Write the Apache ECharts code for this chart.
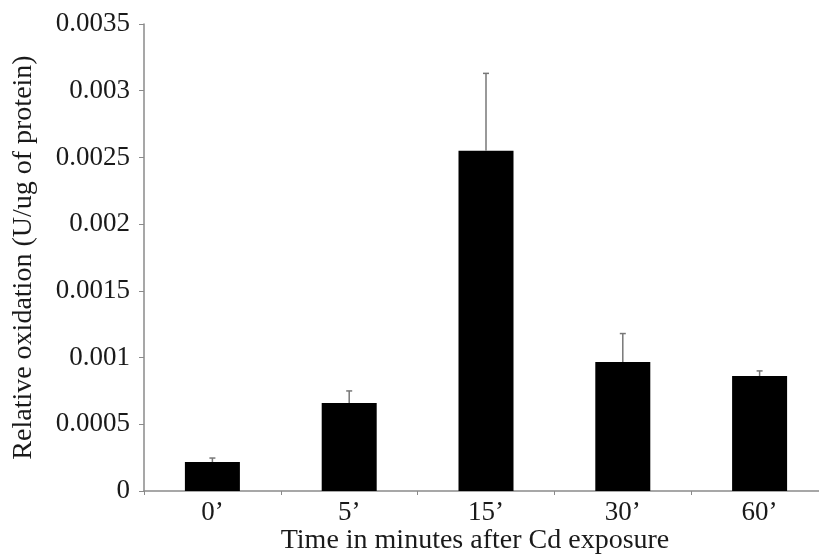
<!DOCTYPE html>
<html>
<head>
<meta charset="utf-8">
<script src="https://cdn.jsdelivr.net/npm/echarts@6/dist/echarts.min.js"></script>
<style>
  html, body { margin: 0; padding: 0; background: #fff; }
  #chart { width: 819px; height: 554px; }
</style>
</head>
<body>
<div id="chart"></div>
<script>
// data
const categories = ['0’', '5’', '15’', '30’', '60’']
const meanValues = [0.000217, 0.00066, 0.00255, 0.000967, 0.000862]
const upperValues = [0.000247, 0.00075, 0.00313, 0.00118, 0.0009]

const chart = echarts.init(document.getElementById('chart'))

const font = 'Liberation Serif'
const axisGrey = '#8a8a8a'

const errData = categories.map((c, i) => [i, meanValues[i], upperValues[i]])

const option = {
  animation: false,
  grid: { left: 144, top: 24, width: 684, bottom: 63, outerBoundsMode: 'none', containLabel: false },
  xAxis: {
    type: 'category',
    data: categories,
    name: 'Time in minutes after Cd exposure',
    nameLocation: 'middle',
    nameGap: 36,
    nameMoveOverlap: false,
    nameTextStyle: { fontFamily: font, fontSize: 28, lineHeight: 28, color: '#1a1a1a', padding: [0, 22, 0, 0] },
    axisLine: { lineStyle: { color: axisGrey, width: 1.5 } },
    axisTick: { show: true, length: 4, lineStyle: { color: axisGrey } },
    axisLabel: { fontFamily: font, fontSize: 27, color: '#1a1a1a', margin: 8 }
  },
  yAxis: {
    type: 'value',
    min: 0,
    max: 0.0035,
    interval: 0.0005,
    name: 'Relative oxidation (U/ug of protein)',
    nameLocation: 'middle',
    nameGap: 106,
    nameMoveOverlap: false,
    nameTextStyle: { fontFamily: font, fontSize: 28, color: '#1a1a1a' },
    splitLine: { show: false },
    axisLine: { show: true, lineStyle: { color: axisGrey, width: 1.5 } },
    axisTick: { show: true, length: 5, lineStyle: { color: axisGrey } },
    axisLabel: {
      fontFamily: font, fontSize: 27, color: '#1a1a1a', margin: 14,
      formatter: v => String(+v.toFixed(4))
    }
  },
  series: [
    {
      type: 'bar',
      data: meanValues,
      barWidth: 55,
      itemStyle: { color: '#000' },
      z: 2
    },
    {
      type: 'custom',
      data: errData,
      z: 3,
      renderItem: function (params, api) {
        const x = api.value(0)
        const lo = api.coord([x, api.value(1)])
        const hi = api.coord([x, api.value(2)])
        return {
          type: 'group',
          children: [
            {
              type: 'line',
              shape: { x1: lo[0], y1: lo[1], x2: hi[0], y2: hi[1] },
              style: { stroke: '#777', lineWidth: 1.5 }
            },
            {
              type: 'line',
              shape: { x1: hi[0] - 3, y1: hi[1], x2: hi[0] + 3, y2: hi[1] },
              style: { stroke: '#777', lineWidth: 1.5 }
            }
          ]
        }
      }
    }
  ]
}

chart.setOption(option)
</script>
</body>
</html>
